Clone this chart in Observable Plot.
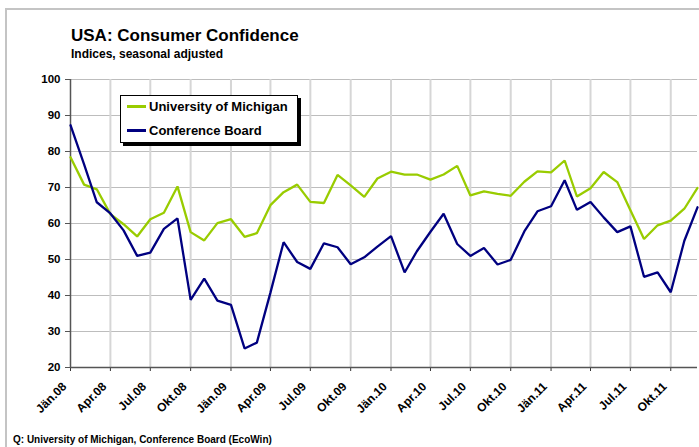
<!DOCTYPE html>
<html>
<head>
<meta charset="utf-8">
<script src="https://cdn.jsdelivr.net/npm/d3@7"></script>
<script src="https://cdn.jsdelivr.net/npm/@observablehq/plot@0.6"></script>
<style>
  html, body { margin: 0; padding: 0; background: #fff; }
  #wrap { position: relative; width: 699px; height: 447px; overflow: hidden; background: #fff;
          font-family: Arial, "Liberation Sans", sans-serif; font-weight: bold; color: #000; }
  #wrap svg { position: absolute; left: 0; top: 0; }
  .abs { position: absolute; white-space: nowrap; }
  #title { left: 71px; top: 26px; font-size: 17px; }
  #subtitle { left: 71px; top: 47px; font-size: 12px; }
  #caption { left: 13px; top: 434px; font-size: 10px; line-height: 12px; }
  #borderTop { left: 6px; top: 8px; width: 693px; height: 2px; background: #c4c4c4; }
  #borderLeft { left: 5px; top: 8px; width: 2px; height: 439px; background: #c4c4c4; }
  #legend { left: 120px; top: 95px; width: 176px; height: 46px; border: 1px solid #000; background: #fff;
            box-shadow: 3px 3px 0 #000; font-size: 13px; }
  .lg { position: absolute; left: 6px; height: 15px; line-height: 15px; }
  .sw { display: inline-block; width: 19px; height: 3px; vertical-align: middle; margin-right: 3px; position: relative; top: -1px; }
</style>
</head>
<body>
<div id="wrap">
  <div class="abs" id="borderTop"></div>
  <div class="abs" id="borderLeft"></div>
</div>
<script>
const title = "USA: Consumer Confidence";
const subtitle = "Indices, seasonal adjusted";
const caption = "Q: University of Michigan, Conference Board (EcoWin)";
const seriesNames = ["University of Michigan", "Conference Board"];
const seriesColors = ["#99cc00", "#000080"];

const months = [
  "2008-01","2008-02","2008-03","2008-04","2008-05","2008-06","2008-07","2008-08","2008-09","2008-10","2008-11","2008-12",
  "2009-01","2009-02","2009-03","2009-04","2009-05","2009-06","2009-07","2009-08","2009-09","2009-10","2009-11","2009-12",
  "2010-01","2010-02","2010-03","2010-04","2010-05","2010-06","2010-07","2010-08","2010-09","2010-10","2010-11","2010-12",
  "2011-01","2011-02","2011-03","2011-04","2011-05","2011-06","2011-07","2011-08","2011-09","2011-10","2011-11","2011-12"
];

const michigan = [
  78.4, 70.8, 69.5, 62.6, 59.8, 56.4, 61.2, 63.0, 70.3, 57.6, 55.3, 60.1,
  61.2, 56.3, 57.3, 65.1, 68.7, 70.8, 66.0, 65.7, 73.5, 70.6, 67.4, 72.5,
  74.4, 73.6, 73.6, 72.2, 73.6, 76.0, 67.8, 68.9, 68.2, 67.7, 71.6, 74.5,
  74.2, 77.5, 67.5, 69.8, 74.3, 71.5, 63.7, 55.7, 59.5, 60.8, 64.1, 69.9
];

const conferenceBoard = [
  87.3, 76.4, 65.9, 62.8, 58.1, 51.0, 51.9, 58.5, 61.4, 38.8, 44.7, 38.6,
  37.4, 25.3, 26.9, 40.8, 54.8, 49.3, 47.4, 54.5, 53.4, 48.7, 50.6, 53.6,
  56.5, 46.4, 52.3, 57.7, 62.7, 54.3, 51.0, 53.2, 48.6, 49.9, 57.8, 63.4,
  64.8, 72.0, 63.8, 66.0, 61.7, 57.6, 59.2, 45.2, 46.4, 40.9, 55.2, 64.5
];

const xTickMonths = ["2008-01","2008-04","2008-07","2008-10","2009-01","2009-04","2009-07","2009-10",
                     "2010-01","2010-04","2010-07","2010-10","2011-01","2011-04","2011-07","2011-10"];
const xTickLabels = ["Jän.08","Apr.08","Jul.08","Okt.08","Jän.09","Apr.09","Jul.09","Okt.09",
                     "Jän.10","Apr.10","Jul.10","Okt.10","Jän.11","Apr.11","Jul.11","Okt.11"];
const yTicks = [20, 30, 40, 50, 60, 70, 80, 90, 100];

const parse = d3.utcParse("%Y-%m");
const dates = months.map(parse);
const xTicks = xTickMonths.map(parse);
const labelOf = new Map(xTicks.map((d, i) => [+d, xTickLabels[i]]));

const data = [
  ...dates.map((d, i) => ({date: d, value: michigan[i], series: seriesNames[0]})),
  ...dates.map((d, i) => ({date: d, value: conferenceBoard[i], series: seriesNames[1]}))
];

const chart = Plot.plot({
  width: 699,
  height: 447,
  marginLeft: 70,
  marginRight: 2,
  marginTop: 79,
  marginBottom: 80,
  style: {fontFamily: "Arial, 'Liberation Sans', sans-serif", fontWeight: "bold", fontSize: "11px", background: "transparent", color: "#000"},
  x: {type: "utc", domain: [dates[0], dates[dates.length - 1]]},
  y: {domain: [20, 100]},
  color: {domain: seriesNames, range: seriesColors},
  marks: [
    Plot.gridY(yTicks.slice(1), {stroke: "#bdbdbd", strokeOpacity: 1, strokeWidth: 1}),
    Plot.gridX(xTicks.slice(1), {stroke: "#d6d6d6", strokeOpacity: 1, strokeWidth: 2}),
    Plot.axisY(yTicks, {tickSize: 5, tickPadding: 5, fontSize: 11.5, label: null, stroke: "#555", color: "#000"}),
    Plot.axisX(xTicks, {tickSize: 4, tickPadding: 6, tickRotate: -45, fontSize: 12, label: null,
                        stroke: "#333", tickFormat: d => labelOf.get(+d)}),
    Plot.ruleY([20], {stroke: "#555", strokeWidth: 1.5}),
    Plot.ruleX([dates[0]], {stroke: "#555", strokeWidth: 1.5}),
    Plot.line(data, {x: "date", y: "value", z: "series", stroke: "series", strokeWidth: 2.3, strokeLinejoin: "miter"})
  ]
});

// shift rotated x tick labels slightly down-left as in the reference
chart.querySelectorAll("g[aria-label='x-axis tick label'] text").forEach(t => {
  const tr = t.getAttribute("transform") || "";
  t.setAttribute("transform", "translate(-6,7) " + tr);
});

const wrap = document.getElementById("wrap");
wrap.insertBefore(chart, wrap.firstChild);

function addDiv(id, text) {
  const el = document.createElement("div");
  el.className = "abs"; el.id = id; el.textContent = text;
  wrap.appendChild(el);
  return el;
}
addDiv("title", title);
addDiv("subtitle", subtitle);
addDiv("caption", caption);

const legend = document.createElement("div");
legend.className = "abs"; legend.id = "legend";
seriesNames.forEach((name, i) => {
  const row = document.createElement("div");
  row.className = "lg";
  row.style.top = (i === 0 ? 3 : 27) + "px";
  const sw = document.createElement("span");
  sw.className = "sw"; sw.style.background = seriesColors[i];
  row.appendChild(sw);
  row.appendChild(document.createTextNode(name));
  legend.appendChild(row);
});
wrap.appendChild(legend);
</script>
</body>
</html>
